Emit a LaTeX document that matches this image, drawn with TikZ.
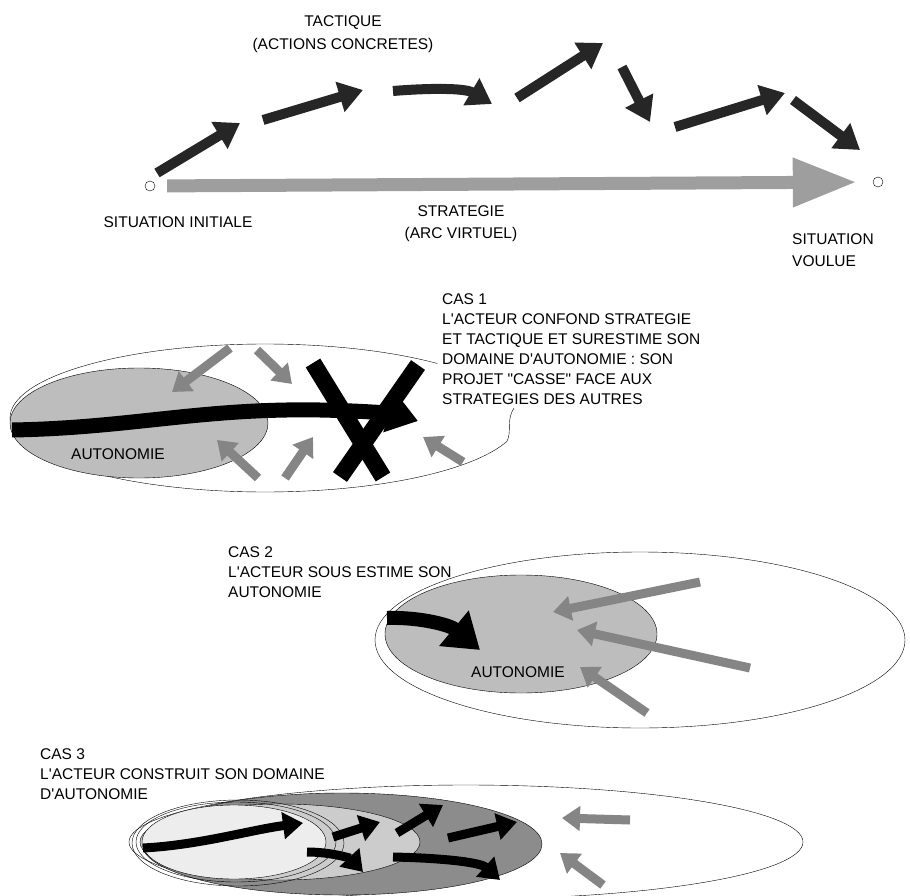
\documentclass[tikz,border=0pt]{standalone}
\usepackage{fontspec}
\setmainfont{Liberation Sans}[Ligatures=TeXOff]
\usetikzlibrary{arrows.meta,positioning,calc}
\definecolor{StratGray}{gray}{0.62}
\definecolor{HatchGray}{gray}{0.52}
\definecolor{AutoGray}{gray}{0.74}
\definecolor{CrossGray}{gray}{0.55}
\definecolor{DotGray}{gray}{0.80}
\definecolor{LightDot}{gray}{0.93}

\begin{document}
\begin{tikzpicture}[
  x=1pt, y=-1pt,
  node distance=8pt,
  lbl/.style={font=\fontsize{15.5}{20}\selectfont, inner sep=0pt, text height=11pt, text depth=3pt},
  blk/.style={font=\fontsize{15.5}{20}\selectfont, inner sep=0pt, align=left, anchor=north west},
  dot/.style={draw, circle, thin, minimum size=10pt, inner sep=0pt},
  zone/.style={draw, thin},
  tact/.style={draw=black!85, line width=10pt, -{Triangle[width=30pt,length=24pt]}},
  strat/.style={draw=StratGray, line width=13pt, -{Triangle[width=46pt,length=64pt]}},
  other/.style={draw=HatchGray, line width=9pt, -{Triangle[width=24pt,length=18pt]}},
  own/.style={draw=black, line width=15pt, -{Triangle[width=40pt,length=30pt]}},
  ownsm/.style={draw=black, line width=9pt, -{Triangle[width=26pt,length=20pt]}},
  cross/.style={draw=black, line width=17pt}
]
\useasboundingbox (0,0) rectangle (910,896);

% tactique / strategie
\node[lbl] (tac) at (343,23) {TACTIQUE};
\node[lbl, below=of tac] (act) {(ACTIONS CONCRETES)};
\node[dot] (init) at (150,186) {};
\node[dot] (goal) at (878,182) {};
\node[lbl] (sinit) at (178,223) {SITUATION INITIALE};
\node[lbl] (strg) at (461,212) {STRATEGIE};
\node[lbl, below=of strg] (arc) {(ARC VIRTUEL)};
\node[lbl, anchor=west] (sit) at (792,240) {SITUATION};
\node[lbl, below=of sit.south west, anchor=north west] (voul) {VOULUE};

\draw[strat, shorten <=12pt, shorten >=16pt] (init) -- (goal);
\draw[tact] (157,173) -- (240,123);
\draw[tact] (263,120) -- (363,90);
\draw[tact] (393,91) .. controls (430,88) and (465,88) .. (492,104);
\draw[tact] (517,98) -- (603,43);
\draw[tact] (622,67) -- (650,122);
\draw[tact] (675,127) -- (785,93);
\draw[tact] (793,100) -- (860,150);

% cas 1
\node[blk] (cas1) at (442,293) {CAS 1\\L'ACTEUR CONFOND STRATEGIE\\ET TACTIQUE ET SURESTIME SON\\DOMAINE D'AUTONOMIE : SON\\PROJET "CASSE" FACE AUX\\STRATEGIES DES AUTRES};
\coordinate (o1) at (265,418);
\draw[zone] ($(o1)+(-47.5:255 and 74)$) arc[start angle=-47.5, end angle=-341.6, x radius=255, y radius=74]
  .. controls (512,432) and (506,420) .. (514,408);
\draw[zone, fill=AutoGray] (139,423) ellipse[x radius=129, y radius=55];
\node[lbl] (auto1) at (118,455) {AUTONOMIE};
\draw[own] (12,430) .. controls (130,428) and (200,408) .. (320,410) .. controls (370,411) and (395,414) .. (418,421);
\draw[other] (230,348) -- (172,392);
\draw[other] (257,350) -- (292,384);
\draw[other] (258,478) -- (217,440);
\draw[other] (285,478) -- (313,437);
\draw[other] (463,462) -- (423,437);
\draw[cross] (313,363) -- (383,477);
\draw[cross] (418,365) -- (340,477);

% cas 2
\node[blk] (cas2) at (228,546) {CAS 2\\L'ACTEUR SOUS ESTIME SON\\AUTONOMIE};
\draw[zone] (640,640) ellipse[x radius=265, y radius=88];
\draw[zone, fill=AutoGray] (521,634) ellipse[x radius=136, y radius=59];
\node[lbl] (auto2) at (518,673) {AUTONOMIE};
\draw[own, line width=14pt, -{Triangle[width=44pt,length=34pt]}] (387,618) .. controls (420,617) and (450,625) .. (480,650);
\draw[other] (700,582) -- (553,612);
\draw[other] (750,668) -- (577,630);
\draw[other] (647,713) -- (580,667);

% cas 3
\node[blk] (cas3) at (40,748) {CAS 3\\L'ACTEUR CONSTRUIT SON DOMAINE\\D'AUTONOMIE};
\draw[zone] (466,842) ellipse[x radius=337, y radius=57];
\draw[zone, fill=CrossGray] (342,844) ellipse[x radius=200, y radius=51];
\draw[zone, fill=DotGray] (280,842) ellipse[x radius=140, y radius=38];
\draw[zone] (238,843) ellipse[x radius=106, y radius=43];
\draw[zone] (236,842) ellipse[x radius=100, y radius=40];
\draw[zone, fill=LightDot] (234,842) ellipse[x radius=92, y radius=37];
\draw[ownsm] (143,848) .. controls (200,845) and (250,830) .. (303,823);
\draw[ownsm] (333,837) -- (380,822);
\draw[ownsm] (397,833) -- (443,805);
\draw[ownsm] (448,838) -- (517,822);
\draw[ownsm] (307,852) .. controls (330,852) and (350,858) .. (363,872);
\draw[ownsm] (393,857) .. controls (440,858) and (480,862) .. (500,880);
\draw[other] (630,820) -- (562,818);
\draw[other] (603,885) -- (560,853);
\end{tikzpicture}
\end{document}
